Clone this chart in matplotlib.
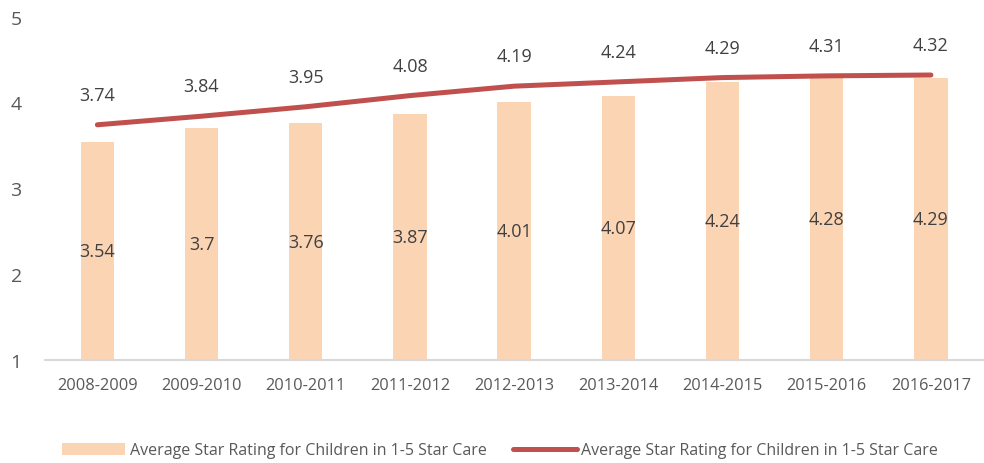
import numpy as np
import matplotlib
matplotlib.use('Agg')
import matplotlib.pyplot as plt

plt.rcParams['font.family'] = ['Open Sans', 'DejaVu Sans']

years = ['2008-2009', '2009-2010', '2010-2011', '2011-2012', '2012-2013',
         '2013-2014', '2014-2015', '2015-2016', '2016-2017']
bar_vals = [3.54, 3.7, 3.76, 3.87, 4.01, 4.07, 4.24, 4.28, 4.29]
line_vals = [3.74, 3.84, 3.95, 4.08, 4.19, 4.24, 4.29, 4.31, 4.32]
series_name = 'Average Star Rating for Children in 1-5 Star Care'

bar_color = '#FBD4B4'
line_color = '#C0504D'
text_color = '#404040'

fig = plt.figure(figsize=(9.84, 4.64), dpi=100)
ax = fig.add_axes([0.046, 0.222, 0.953, 0.74])

x = np.arange(len(years))
bars = ax.bar(x, np.array(bar_vals) - 1, bottom=1, width=0.32, color=bar_color,
              label=series_name, zorder=2)
line, = ax.plot(x, line_vals, color=line_color, lw=3.6, solid_capstyle='round',
                label=series_name, zorder=3)

# labels: bars in the middle, line above
for xi, v in zip(x, bar_vals):
    ax.text(xi, (1 + v) / 2, f'{v:g}', ha='center', va='center',
            fontsize=13, color=text_color, zorder=4)
for xi, v in zip(x, line_vals):
    ax.annotate(f'{v:g}', (xi, v), xytext=(0, 30), textcoords='offset pixels',
                ha='center', va='center', fontsize=13, color=text_color)

ax.set_xlim(-0.5, len(years) - 0.5)
ax.set_ylim(1, 5)
ax.set_yticks([1, 2, 3, 4, 5])
ax.set_xticks(x)
ax.set_xticklabels(years)
ax.tick_params(axis='x', length=0, pad=12, labelsize=11.8, labelcolor='#595959')
ax.tick_params(axis='y', length=0, pad=25, labelsize=14, labelcolor='#595959')
for lbl in ax.get_yticklabels():
    lbl.set_horizontalalignment('left')

for s in ['top', 'right', 'left']:
    ax.spines[s].set_visible(False)
ax.spines['bottom'].set_color('#D9D9D9')
ax.spines['bottom'].set_linewidth(1.5)

leg = fig.legend([bars, line], [series_name, series_name], loc='center',
                 bbox_to_anchor=(0.508, 0.027), ncol=2, frameon=False,
                 fontsize=11.5, handlelength=4.0, handleheight=0.8,
                 columnspacing=1.6, handletextpad=0.3)
for t in leg.get_texts():
    t.set_color('#595959')

fig.savefig('out.png', dpi=100)
